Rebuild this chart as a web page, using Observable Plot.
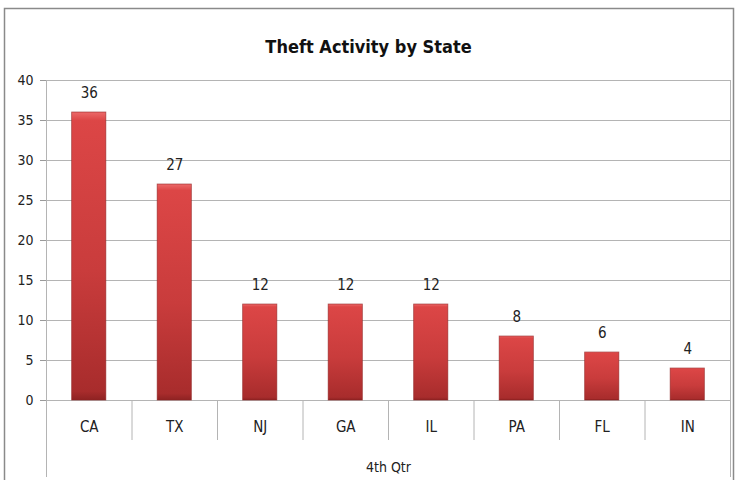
<!DOCTYPE html>
<html>
<head>
<meta charset="utf-8">
<script src="https://cdn.jsdelivr.net/npm/d3@7"></script>
<script src="https://cdn.jsdelivr.net/npm/@observablehq/plot@0.6"></script>
<style>
  html, body { margin: 0; padding: 0; background: #fff; }
  #chart svg { display: block; }
</style>
</head>
<body>
<div id="chart"></div>
<script>
const title = "Theft Activity by State";
const states = ["CA", "TX", "NJ", "GA", "IL", "PA", "FL", "IN"];
const values = [36, 27, 12, 12, 12, 8, 6, 4];
const groupLabel = "4th Qtr";
const yTicks = [0, 5, 10, 15, 20, 25, 30, 35, 40];

const data = states.map((s, i) => ({state: s, value: values[i], i}));
const edges = d3.range(states.length + 1);
const font = "'Liberation Sans Narrow', 'DejaVu Sans Condensed', 'Open Sans', sans-serif";

const plot = Plot.plot({
  width: 736,
  height: 480,
  marginLeft: 46,
  marginRight: 6,
  marginTop: 80,
  marginBottom: 80,
  style: {fontFamily: font, fontSize: "14px", color: "#222", background: "#fff", overflow: "visible"},
  x: {domain: [0, states.length], axis: null},
  y: {domain: [0, 40], axis: null},
  marks: [
    // outer chart border
    Plot.frame({stroke: "#8a8a8a", strokeWidth: 1.5, insetLeft: -42, insetTop: -72, insetRight: -3, insetBottom: -100}),
    // gridlines
    Plot.ruleY(yTicks, {stroke: "#b4b4b4", strokeWidth: 1}),
    // y axis
    Plot.axisY({ticks: yTicks, tickSize: 6, tickPadding: 7, label: null, stroke: "#9a9a9a", fill: "#222", fontSize: 14}),
    // category separators
    Plot.ruleX(edges.slice(1, -1), {stroke: "#b4b4b4", insetTop: 320, insetBottom: -40}),
    Plot.ruleX([edges[0], edges[edges.length - 1]], {stroke: "#b4b4b4", insetTop: 0, insetBottom: -77}),
    // bars
    Plot.rectY(data, {x1: d => d.i + 0.3, x2: d => d.i + 0.7, y: "value", fill: "url(#barGrad)", stroke: "#8e2222", strokeWidth: 0.8, strokeOpacity: 0.7}),
    // value labels
    Plot.text(data, {x: d => d.i + 0.5, y: "value", text: d => String(d.value), dy: -19, fontSize: 15, fill: "#222"}),
    // category labels
    Plot.text(data, {x: d => d.i + 0.5, text: "state", frameAnchor: "bottom", lineAnchor: "middle", dy: 27, fontSize: 15, fill: "#222"}),
    // group label
    Plot.text([groupLabel], {x: states.length / 2, text: d => d, frameAnchor: "bottom", lineAnchor: "middle", dy: 67, fontSize: 14, fill: "#222"}),
    // title
    Plot.text([title], {x: states.length / 2, text: d => d, frameAnchor: "top", lineAnchor: "middle", dy: -33, dx: -20, fontSize: 18, fontWeight: "bold", fill: "#111"})
  ]
});

const svg = d3.select(plot);
const defs = svg.insert("defs", ":first-child");
const g = defs.append("linearGradient").attr("id", "barGrad").attr("x1", 0).attr("y1", 0).attr("x2", 0).attr("y2", 1);
g.append("stop").attr("offset", "0%").attr("stop-color", "#ec6a6a");
g.append("stop").attr("offset", "3%").attr("stop-color", "#dc4646");
g.append("stop").attr("offset", "55%").attr("stop-color", "#c93c3c");
g.append("stop").attr("offset", "97%").attr("stop-color", "#a82c2c");
g.append("stop").attr("offset", "100%").attr("stop-color", "#8e2222");

document.getElementById("chart").appendChild(plot);
</script>
</body>
</html>
